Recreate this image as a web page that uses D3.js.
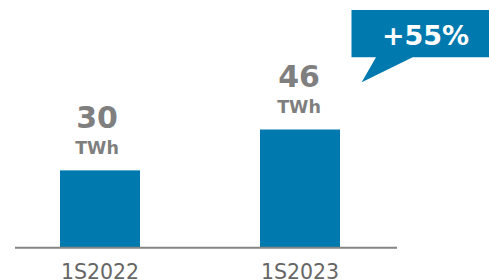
<!DOCTYPE html>
<html>
<head>
<meta charset="utf-8">
<script src="https://cdn.jsdelivr.net/npm/d3@7"></script>
<style>
  html, body { margin: 0; padding: 0; background: #fff; }
  svg { display: block; font-family: "DejaVu Sans", Verdana, sans-serif; }
</style>
</head>
<body>
<div id="chart"></div>
<script>
// chart data
const periods = ['1S2022', '1S2023'];
const values = [30, 46];
const unit = 'TWh';
const growthLabel = '+55%';

const width = 489;
const height = 280;
const baseline = 247;
const blue = '#0079ae';
const grey = '#7f7f7f';

const svg = d3.select('#chart')
  .append('svg')
  .attr('width', width)
  .attr('height', height);

// scales
const xScale = d3.scaleBand()
  .domain(periods)
  .range([0, 400])
  .paddingInner(0.6)
  .paddingOuter(0.3);

const yScale = d3.scaleLinear()
  .domain([0, 46])
  .range([baseline, 129.5]);

// bars
svg.append('g')
  .selectAll('rect')
  .data(values)
  .join('rect')
  .attr('x', (d, i) => xScale(periods[i]))
  .attr('y', d => yScale(d))
  .attr('width', xScale.bandwidth())
  .attr('height', d => baseline - yScale(d))
  .attr('fill', blue);

// baseline axis
const xAxis = d3.axisBottom(xScale).tickSize(0).tickPadding(17);
svg.append('g')
  .attr('class', 'x-axis')
  .attr('transform', `translate(0, ${baseline})`)
  .call(xAxis)
  .call(g => g.select('.domain').remove())
  .call(g => g.selectAll('text')
    .attr('font-family', '"DejaVu Sans", Verdana, sans-serif')
    .attr('font-size', 20.5)
    .attr('fill', '#666'));

svg.append('line')
  .attr('x1', 15)
  .attr('x2', 397)
  .attr('y1', baseline + 0.8)
  .attr('y2', baseline + 0.8)
  .attr('stroke', '#858585')
  .attr('stroke-width', 2);

// value labels
const labels = svg.append('g')
  .selectAll('g')
  .data(values)
  .join('g')
  .attr('transform', (d, i) =>
    `translate(${xScale(periods[i]) + xScale.bandwidth() / 2 - (i === 0 ? 3 : 1)}, ${yScale(d)})`);

labels.append('text')
  .attr('y', -42.5)
  .attr('text-anchor', 'middle')
  .attr('font-size', 30)
  .attr('font-weight', 'bold')
  .attr('fill', grey)
  .text(d => d);

labels.append('text')
  .attr('y', -16.5)
  .attr('text-anchor', 'middle')
  .attr('font-size', 17.5)
  .attr('font-weight', 'bold')
  .attr('fill', grey)
  .text(unit);

// growth callout
const callout = svg.append('g');
callout.append('path')
  .attr('d', 'M351.5,10 H489 V57.3 H412.7 L361.7,82.3 L376,57.3 H351.5 Z')
  .attr('fill', blue);
callout.append('text')
  .attr('x', 425.5)
  .attr('y', 44.5)
  .attr('text-anchor', 'middle')
  .attr('font-size', 27)
  .attr('font-weight', 'bold')
  .attr('fill', '#fff')
  .text(growthLabel);
</script>
</body>
</html>
